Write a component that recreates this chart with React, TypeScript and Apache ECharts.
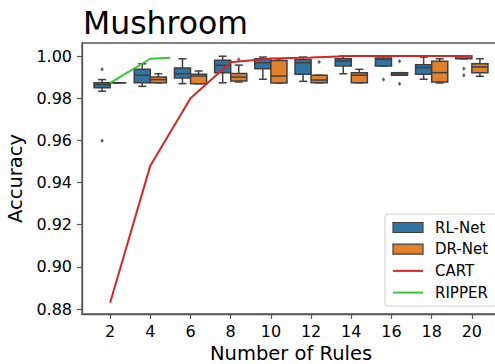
import React, { useEffect, useRef } from "react";
import * as echarts from "echarts";

// ---- data ----
const RULES = [2, 4, 6, 8, 10, 12, 14, 16, 18, 20];
const Y_TICKS = [0.88, 0.9, 0.92, 0.94, 0.96, 0.98, 1.0];

const RL_MIN = [0.9833, 0.9856, 0.9869, 0.9873, 0.989, 0.988, 0.9916, 0.9953, 0.989, 0.9987];
const RL_Q1 = [0.985, 0.9873, 0.9896, 0.9921, 0.994, 0.9913, 0.9953, 0.9953, 0.9913, 0.9987];
const RL_MED = [0.9864, 0.9909, 0.9916, 0.9956, 0.9968, 0.9968, 0.9976, 0.9984, 0.9945, 0.9999];
const RL_Q3 = [0.9873, 0.9937, 0.9943, 0.998, 0.9987, 0.9984, 0.9987, 0.9991, 0.9959, 1.0];
const RL_MAX = [0.9888, 0.9963, 0.9987, 0.9999, 0.9995, 0.9995, 1.0, 0.9999, 0.9995, 1.0];
const RL_OUTLIERS: [number, number][] = [
  [2, 0.9937], [2, 0.9598], [16, 0.9888], [20, 0.994], [20, 0.9909],
];

const DR_MIN = [0.9873, 0.9873, 0.9869, 0.9877, 0.9872, 0.9873, 0.9873, 0.9909, 0.9872, 0.9904];
const DR_Q1 = [0.9873, 0.9873, 0.9869, 0.9881, 0.9872, 0.9873, 0.9873, 0.9909, 0.9877, 0.9921];
const DR_MED = [0.9873, 0.9888, 0.9905, 0.99, 0.9905, 0.9886, 0.9909, 0.9915, 0.9921, 0.9948];
const DR_Q3 = [0.9873, 0.99, 0.9913, 0.9917, 0.9979, 0.9909, 0.9921, 0.9921, 0.9975, 0.9963];
const DR_MAX = [0.9873, 0.9916, 0.9929, 0.9957, 0.9987, 0.9909, 0.9937, 0.9921, 0.9987, 0.9987];
const DR_OUTLIERS: [number, number][] = [
  [8, 0.9984], [12, 0.9972], [16, 0.9975], [16, 0.9869],
];

const CART = [0.883, 0.948, 0.98, 0.997, 0.9988, 0.9993, 1.0, 1.0, 1.0, 1.0];
const RIPPER_X = [2, 4, 5];
const RIPPER = [0.9873, 0.9987, 0.9992];

// ---- style ----
const FONT = "DejaVu Sans";
const BLUE = "#3274a1";
const ORANGE = "#e1812c";
const EDGE = "#3f3f3f";
const RED = "#d62728";
const GREEN = "#3cc23c";
const SPINE = "#555555";
const HUE_OFFSET = 0.4;
const BOX_W = 0.8;

function boxData(offset: number, mn: number[], q1: number[], med: number[], q3: number[], mx: number[]) {
  return RULES.map((r, i) => [r + offset, mn[i], q1[i], med[i], q3[i], mx[i]]);
}

function renderBox(fill: string) {
  return (params: any, api: any) => {
    const x = api.value(0);
    const pMin = api.coord([x, api.value(1)]);
    const pQ1 = api.coord([x, api.value(2)]);
    const pMed = api.coord([x, api.value(3)]);
    const pQ3 = api.coord([x, api.value(4)]);
    const pMax = api.coord([x, api.value(5)]);
    const w = api.size([BOX_W, 0])[0];
    const cx = pQ1[0];
    const ls = { stroke: EDGE, lineWidth: 1.5, fill: "none" };
    return {
      type: "group",
      children: [
        { type: "line", shape: { x1: cx, y1: pQ3[1], x2: cx, y2: pMax[1] }, style: ls },
        { type: "line", shape: { x1: cx, y1: pQ1[1], x2: cx, y2: pMin[1] }, style: ls },
        { type: "line", shape: { x1: cx - w / 4, y1: pMax[1], x2: cx + w / 4, y2: pMax[1] }, style: ls },
        { type: "line", shape: { x1: cx - w / 4, y1: pMin[1], x2: cx + w / 4, y2: pMin[1] }, style: ls },
        {
          type: "rect",
          shape: { x: cx - w / 2, y: pQ3[1], width: w, height: pQ1[1] - pQ3[1] },
          style: { fill, stroke: EDGE, lineWidth: 1.5 },
        },
        { type: "line", shape: { x1: cx - w / 2, y1: pMed[1], x2: cx + w / 2, y2: pMed[1] }, style: ls },
      ],
    };
  };
}

export default function App() {
  const ref = useRef<HTMLDivElement>(null);
  useEffect(() => {
    const chart = echarts.init(ref.current!, null, { renderer: "svg" });
    const option: any = {
      animation: false,
      backgroundColor: "#ffffff",
      textStyle: { fontFamily: FONT },
      title: {
        text: "Mushroom",
        left: 83,
        top: 7,
        padding: 0,
        textStyle: { fontFamily: FONT, fontSize: 31.5, fontWeight: "normal", color: "#000" },
      },
      grid: {
        left: 82,
        top: 43,
        width: 418,
        height: 271,
        outerBoundsMode: "none",
        containLabel: false,
        show: true,
        borderColor: SPINE,
        borderWidth: 1.3,
        backgroundColor: "transparent",
      },
      legend: {
        orient: "vertical",
        left: 385,
        top: 214,
        padding: [6, 8, 6, 7],
        itemWidth: 30,
        itemHeight: 10,
        itemGap: 6.7,
        borderColor: "#d0d0d0",
        borderWidth: 1,
        borderRadius: 3,
        backgroundColor: "rgba(255,255,255,0.8)",
        textStyle: { fontFamily: FONT, fontSize: 15, color: "#000", lineHeight: 15, padding: [0, 0, 0, 7] },
        data: [
          { name: "RL-Net", icon: "rect", itemStyle: { color: BLUE, borderColor: EDGE, borderWidth: 1.2 } },
          { name: "DR-Net", icon: "rect", itemStyle: { color: ORANGE, borderColor: EDGE, borderWidth: 1.2 } },
          { name: "CART", itemStyle: { opacity: 0 } },
          { name: "RIPPER", itemStyle: { opacity: 0 } },
        ],
      },
      xAxis: {
        type: "value",
        min: 0.6,
        max: 21.4,
        name: "Number of Rules",
        nameLocation: "middle",
        nameGap: 29,
        nameTextStyle: { fontFamily: FONT, fontSize: 19.5, color: "#000", verticalAlign: "top" },
        axisLine: { show: true, lineStyle: { color: SPINE, width: 1.3 } },
        axisTick: { show: true, length: 5, lineStyle: { color: SPINE, width: 1.2 }, customValues: RULES },
        axisLabel: {
          customValues: RULES,
          margin: 9,
          fontFamily: FONT,
          fontSize: 16,
          color: "#000",
        },
        splitLine: { show: false },
      },
      yAxis: {
        type: "value",
        min: 0.87763,
        max: 1.00617,
        name: "Accuracy",
        nameLocation: "middle",
        nameGap: 52,
        nameTextStyle: { fontFamily: FONT, fontSize: 19.5, color: "#000" },
        axisLine: { show: true, lineStyle: { color: SPINE, width: 1.3 } },
        axisTick: { show: true, length: 5, lineStyle: { color: SPINE, width: 1.2 }, customValues: Y_TICKS },
        axisLabel: {
          customValues: Y_TICKS,
          margin: 10,
          fontFamily: FONT,
          fontSize: 16,
          color: "#000",
          formatter: (v: number) => v.toFixed(2),
        },
        splitLine: { show: false },
      },
      series: [
        {
          name: "RL-Net",
          type: "custom",
          z: 2,
          itemStyle: { color: BLUE },
          renderItem: renderBox(BLUE),
          encode: { x: 0, y: [1, 2, 3, 4, 5] },
          data: boxData(-HUE_OFFSET, RL_MIN, RL_Q1, RL_MED, RL_Q3, RL_MAX),
        },
        {
          name: "DR-Net",
          type: "custom",
          z: 2,
          itemStyle: { color: ORANGE },
          renderItem: renderBox(ORANGE),
          encode: { x: 0, y: [1, 2, 3, 4, 5] },
          data: boxData(HUE_OFFSET, DR_MIN, DR_Q1, DR_MED, DR_Q3, DR_MAX),
        },
        {
          name: "RL-Net outliers",
          type: "scatter",
          z: 2,
          symbol: "diamond",
          symbolSize: [3.5, 4.5],
          itemStyle: { color: EDGE },
          data: RL_OUTLIERS.map(([r, v]) => [r - HUE_OFFSET, v]),
        },
        {
          name: "DR-Net outliers",
          type: "scatter",
          z: 2,
          symbol: "diamond",
          symbolSize: [3.5, 4.5],
          itemStyle: { color: EDGE },
          data: DR_OUTLIERS.map(([r, v]) => [r + HUE_OFFSET, v]),
        },
        {
          name: "CART",
          type: "line",
          z: 3,
          symbol: "none",
          showSymbol: false,
          color: RED,
          lineStyle: { color: RED, width: 2 },
          data: RULES.map((r, i) => [r, CART[i]]),
        },
        {
          name: "RIPPER",
          type: "line",
          z: 3,
          symbol: "none",
          showSymbol: false,
          color: GREEN,
          lineStyle: { color: GREEN, width: 2 },
          data: RIPPER_X.map((r, i) => [r, RIPPER[i]]),
        },
      ],
    };
    chart.setOption(option);
    return () => chart.dispose();
  }, []);
  return (
    <div
      ref={ref}
      style={{ position: "absolute", left: 0, top: 0, width: 495, height: 364 }}
    />
  );
}
